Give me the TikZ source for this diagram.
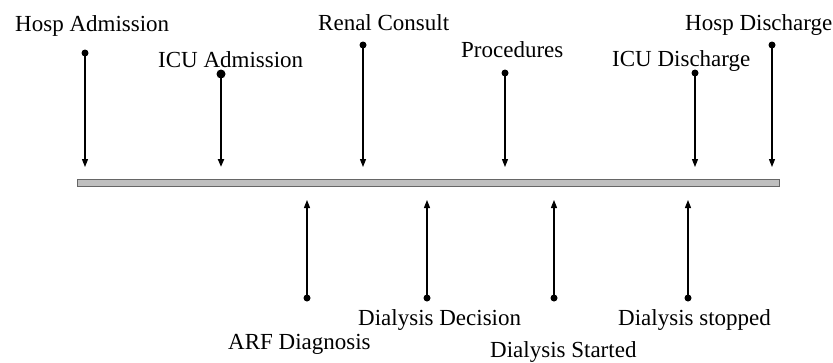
\documentclass[tikz,border=0pt]{standalone}
\usepackage{fontspec}
\setmainfont{Liberation Serif}
\usetikzlibrary{arrows.meta}
\begin{document}
\begin{tikzpicture}[x=1pt,y=-1pt,
  lbl/.style={anchor=base west, inner sep=0pt, font=\fontsize{23}{27}\selectfont},
  evdot/.style={circle, fill=black, inner sep=0pt, minimum size=7pt},
  bigdot/.style={evdot, minimum size=9pt},
  evt/.style={line width=1.1pt, -{Triangle[length=8pt,width=6pt]}},
  thickevt/.style={evt, line width=2pt},
  barstyle/.style={draw=black!60, fill=black!25, line width=0.7pt, inner sep=0pt}]
\useasboundingbox (0,0) rectangle (833,362);
% timeline bar
\node[barstyle, minimum width=702pt, minimum height=7pt, anchor=north west] (bar) at (77,179) {};
% events above (arrows down)
\node[evdot] (ha) at (85,53) {};   \coordinate (hat) at (85,167);
\node[bigdot] (ia) at (221,74) {}; \coordinate (iat) at (221,167);
\node[evdot] (rc) at (363,45) {};  \coordinate (rct) at (363,167);
\node[evdot] (pr) at (505,73) {};  \coordinate (prt) at (505,167);
\node[evdot] (id) at (695,73) {};  \coordinate (idt) at (695,167);
\node[evdot] (hd) at (772,45) {};  \coordinate (hdt) at (772,167);
\draw[evt] (ha.center) -- (hat);
\draw[thickevt] (ia.center) -- (iat);
\draw[evt] (rc.center) -- (rct);
\draw[evt] (pr.center) -- (prt);
\draw[evt] (id.center) -- (idt);
\draw[evt] (hd.center) -- (hdt);
% events below (arrows up)
\node[evdot] (ad) at (307,298) {}; \coordinate (adt) at (307,200);
\node[evdot] (dd) at (427,298) {}; \coordinate (ddt) at (427,200);
\node[evdot] (ds) at (554,298) {}; \coordinate (dst) at (554,200);
\node[evdot] (dp) at (688,298) {}; \coordinate (dpt) at (688,200);
\draw[evt] (ad.center) -- (adt);
\draw[evt] (dd.center) -- (ddt);
\draw[evt] (ds.center) -- (dst);
\draw[evt] (dp.center) -- (dpt);
% labels
\node[lbl] (lha) at (15,31.5) {Hosp Admission};
\node[lbl] (lia) at (158,67) {ICU Admission};
\node[lbl] (lrc) at (318,30) {Renal Consult};
\node[lbl] (lpr) at (461,57) {Procedures};
\node[lbl] (lid) at (612,66) {ICU Discharge};
\node[lbl] (lhd) at (685,30) {Hosp Discharge};
\node[lbl] (ldd) at (358,325) {Dialysis Decision};
\node[lbl] (lad) at (228,349) {ARF Diagnosis};
\node[lbl] (lds) at (490,357) {Dialysis Started};
\node[lbl] (ldp) at (618,325) {Dialysis stopped};
\end{tikzpicture}
\end{document}
